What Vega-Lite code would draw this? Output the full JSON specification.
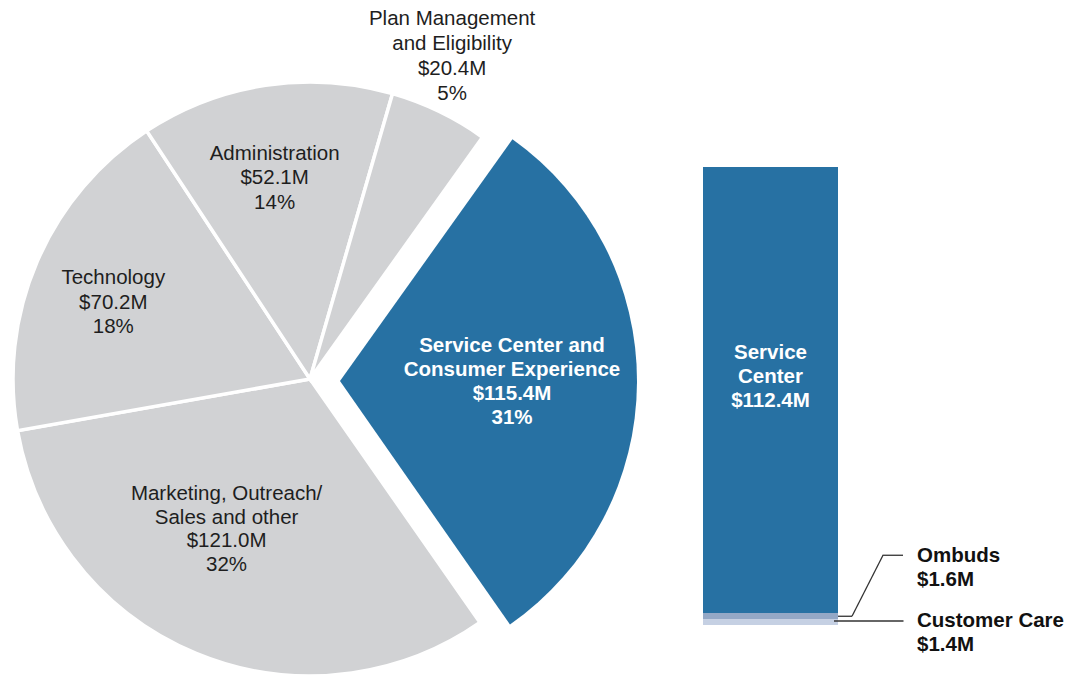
{
  "$schema": "https://vega.github.io/schema/vega-lite/v6.json",
  "padding": 0,
  "spacing": 0,
  "bounds": "flush",
  "config": {
    "view": {"stroke": null},
    "font": "Liberation Sans",
    "text": {"font": "Liberation Sans"}
  },
  "hconcat": [
    {
      "width": 620,
      "height": 675,
      "data": {
        "values": [
          {"category": "Service Center and Consumer Experience", "rank": 1, "amount": 115.4, "label": ["Service Center and", "Consumer Experience", "$115.4M", "31%"]},
          {"category": "Marketing, Outreach/Sales and other", "rank": 2, "amount": 121.0, "label": ["Marketing, Outreach/", "Sales and other", "$121.0M", "32%"]},
          {"category": "Technology", "rank": 3, "amount": 70.2, "label": ["Technology", "$70.2M", "18%"]},
          {"category": "Administration", "rank": 4, "amount": 52.1, "label": ["Administration", "$52.1M", "14%"]},
          {"category": "Plan Management and Eligibility", "rank": 5, "amount": 20.4, "label": ["Plan Management", "and Eligibility", "$20.4M", "5%"]}
        ]
      },
      "transform": [
        {"stack": "amount", "groupby": [], "sort": [{"field": "rank", "order": "ascending"}], "as": ["t0", "t1"]},
        {"calculate": "(datum.t0 + datum.t1) / 2", "as": "tmid"}
      ],
      "layer": [
        {
          "transform": [{"filter": "datum.rank !== 1"}],
          "mark": {"type": "arc", "radius": 297, "stroke": "#ffffff", "strokeWidth": 3.5, "yOffset": 41.5},
          "encoding": {
            "theta": {"field": "t0", "type": "quantitative", "scale": {"domain": [0, 379.1], "range": [0.6196, 6.9028]}},
            "theta2": {"field": "t1"},
            "color": {"value": "#d1d2d4"}
          }
        },
        {
          "transform": [{"filter": "datum.rank === 1"}],
          "mark": {"type": "arc", "radius": 297, "xOffset": 30, "yOffset": 43.5},
          "encoding": {
            "theta": {"field": "t0", "type": "quantitative"},
            "theta2": {"field": "t1"},
            "color": {"value": "#2771a3"}
          }
        },
        {
          "transform": [{"filter": "datum.rank === 1"}],
          "mark": {"type": "text", "radius": 202, "yOffset": 43.5, "dy": -36.5, "fontSize": 20.5, "fontWeight": "bold", "lineHeight": 24.3, "color": "#ffffff", "baseline": "middle", "align": "center"},
          "encoding": {"theta": {"field": "tmid", "type": "quantitative"}, "text": {"field": "label", "type": "nominal"}}
        },
        {
          "transform": [{"filter": "datum.rank === 2"}],
          "mark": {"type": "text", "radius": 172, "thetaOffset": 0.113, "yOffset": 41.5, "dy": -35.7, "fontSize": 20.5, "lineHeight": 23.8, "color": "#1e1e1e", "baseline": "middle", "align": "center"},
          "encoding": {"theta": {"field": "tmid", "type": "quantitative"}, "text": {"field": "label", "type": "nominal"}}
        },
        {
          "transform": [{"filter": "datum.rank === 3"}],
          "mark": {"type": "text", "radius": 211, "thetaOffset": -0.037, "yOffset": 41.5, "dy": -24.5, "fontSize": 20.5, "lineHeight": 24.5, "color": "#1e1e1e", "baseline": "middle", "align": "center"},
          "encoding": {"theta": {"field": "tmid", "type": "quantitative"}, "text": {"field": "label", "type": "nominal"}}
        },
        {
          "transform": [{"filter": "datum.rank === 4"}],
          "mark": {"type": "text", "radius": 204, "thetaOffset": -0.024, "yOffset": 41.5, "dy": -24.5, "fontSize": 20.5, "lineHeight": 24.5, "color": "#1e1e1e", "baseline": "middle", "align": "center"},
          "encoding": {"theta": {"field": "tmid", "type": "quantitative"}, "text": {"field": "label", "type": "nominal"}}
        },
        {
          "transform": [{"filter": "datum.rank === 5"}],
          "mark": {"type": "text", "radius": 352, "thetaOffset": -0.035, "yOffset": 41.5, "dy": -37.5, "fontSize": 20.5, "lineHeight": 25, "color": "#1e1e1e", "baseline": "middle", "align": "center"},
          "encoding": {"theta": {"field": "tmid", "type": "quantitative"}, "text": {"field": "label", "type": "nominal"}}
        }
      ]
    },
    {
      "width": 301,
      "height": 675,
      "data": {
        "values": [
          {"group": "Service Center and Consumer Experience", "segment": "Service Center", "amount": 112.4, "stackOrder": 3, "label": ["Service", "Center", "$112.4M"]},
          {"group": "Service Center and Consumer Experience", "segment": "Ombuds", "amount": 1.6, "stackOrder": 2, "label": ["Ombuds", "$1.6M"]},
          {"group": "Service Center and Consumer Experience", "segment": "Customer Care", "amount": 1.4, "stackOrder": 1, "label": ["Customer Care", "$1.4M"]}
        ]
      },
      "transform": [
        {"stack": "amount", "groupby": ["group"], "sort": [{"field": "stackOrder", "order": "ascending"}], "as": ["y0", "y1"]},
        {"calculate": "(datum.y0 + datum.y1) / 2", "as": "ymid"}
      ],
      "encoding": {
        "x": {"field": "group", "type": "ordinal", "scale": {"type": "point"}, "axis": null}
      },
      "layer": [
        {
          "mark": {"type": "bar", "width": 135},
          "encoding": {
            "y": {"field": "y0", "type": "quantitative", "scale": {"domain": [-12.6, 157.48], "nice": false, "zero": false}, "axis": null},
            "y2": {"field": "y1"},
            "color": {"field": "segment", "type": "nominal", "scale": {"domain": ["Service Center", "Ombuds", "Customer Care"], "range": ["#2771a3", "#94a8c6", "#c5d0e3"]}, "legend": null}
          }
        },
        {
          "transform": [{"filter": "datum.segment === 'Service Center'"}],
          "mark": {"type": "text", "dy": -37, "fontSize": 20.5, "fontWeight": "bold", "lineHeight": 24, "color": "#ffffff", "baseline": "middle", "align": "center"},
          "encoding": {
            "y": {"field": "ymid", "type": "quantitative", "axis": null},
            "text": {"field": "label", "type": "nominal"}
          }
        },
        {
          "transform": [{"filter": "datum.segment === 'Ombuds'"}],
          "mark": {"type": "text", "dx": 146.5, "dy": -60.3, "fontSize": 20.5, "fontWeight": "bold", "lineHeight": 24, "color": "#111111", "baseline": "middle", "align": "left"},
          "encoding": {
            "y": {"field": "ymid", "type": "quantitative", "axis": null},
            "text": {"field": "label", "type": "nominal"}
          }
        },
        {
          "transform": [{"filter": "datum.segment === 'Customer Care'"}],
          "mark": {"type": "text", "dx": 146.5, "dy": -1.2, "fontSize": 20.5, "fontWeight": "bold", "lineHeight": 24, "color": "#111111", "baseline": "middle", "align": "left"},
          "encoding": {
            "y": {"field": "ymid", "type": "quantitative", "axis": null},
            "text": {"field": "label", "type": "nominal"}
          }
        },
        {
          "transform": [{"filter": "datum.segment === 'Customer Care'"}],
          "mark": {"type": "rule", "xOffset": 63.5, "x2Offset": 133, "yOffset": -1.2, "color": "#333333", "strokeWidth": 1.3},
          "encoding": {
            "x2": {"field": "group"},
            "y": {"field": "ymid", "type": "quantitative", "axis": null}
          }
        },
        {
          "transform": [{"filter": "datum.segment === 'Ombuds'"}],
          "mark": {"type": "rule", "xOffset": 67.5, "x2Offset": 81.5, "color": "#333333", "strokeWidth": 1.3},
          "encoding": {
            "x2": {"field": "group"},
            "y": {"field": "ymid", "type": "quantitative", "axis": null}
          }
        },
        {
          "transform": [{"filter": "datum.segment === 'Ombuds'"}],
          "mark": {"type": "rule", "xOffset": 81.5, "x2Offset": 112.5, "y2Offset": -61, "color": "#333333", "strokeWidth": 1.3},
          "encoding": {
            "x2": {"field": "group"},
            "y": {"field": "ymid", "type": "quantitative", "axis": null},
            "y2": {"field": "ymid"}
          }
        },
        {
          "transform": [{"filter": "datum.segment === 'Ombuds'"}],
          "mark": {"type": "rule", "xOffset": 112, "x2Offset": 132.5, "yOffset": -61, "color": "#333333", "strokeWidth": 1.3},
          "encoding": {
            "x2": {"field": "group"},
            "y": {"field": "ymid", "type": "quantitative", "axis": null}
          }
        }
      ]
    }
  ]
}
